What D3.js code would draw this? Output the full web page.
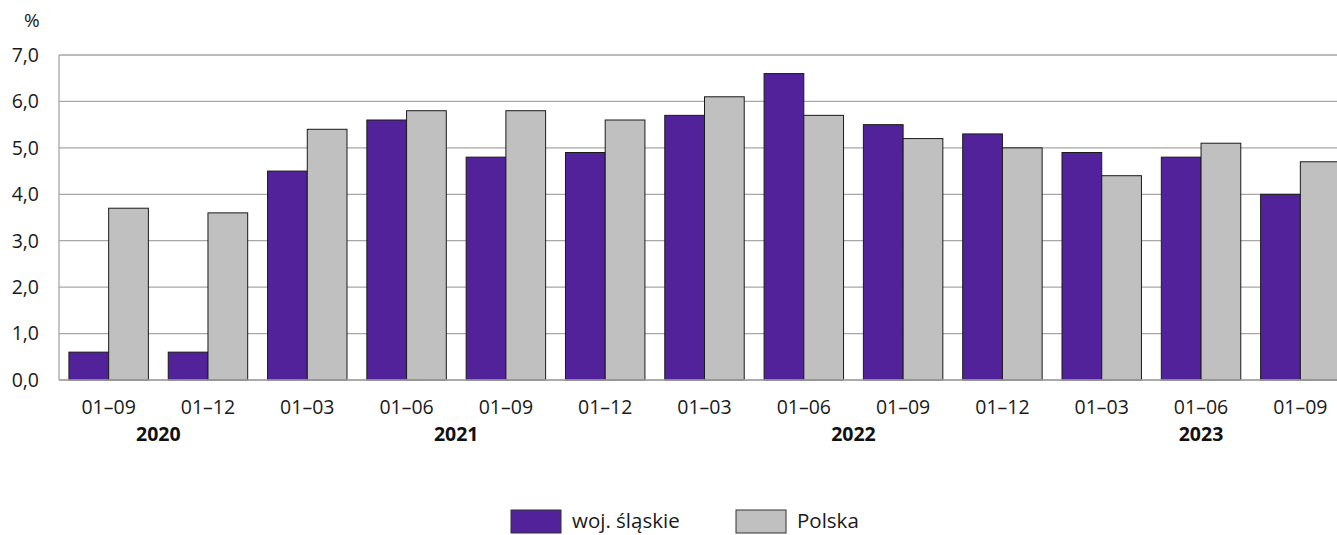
<!DOCTYPE html>
<html><head><meta charset="utf-8">
<script src="https://cdn.jsdelivr.net/npm/d3@7"></script>
<style>body{margin:0;background:#fff;} svg{display:block;font-family:"Open Sans","Noto Sans",sans-serif;}</style>
</head><body>
<svg id="c" width="1337" height="535"></svg>
<script>
const periods = ["01–09","01–12","01–03","01–06","01–09","01–12","01–03","01–06","01–09","01–12","01–03","01–06","01–09"];
const years = [{label:"2020", from:0, to:1},{label:"2021", from:2, to:5},{label:"2022", from:6, to:9},{label:"2023", from:10, to:12}];
const slaskie = [0.6,0.6,4.5,5.6,4.8,4.9,5.7,6.6,5.5,5.3,4.9,4.8,4.0];
const polska = [3.7,3.6,5.4,5.8,5.8,5.6,6.1,5.7,5.2,5.0,4.4,5.1,4.7];
const yTicks = [0,1,2,3,4,5,6,7];
const seriesNames = ["woj. śląskie","Polska"];
const colors = ["#51229a","#c0c0c0"];

const svg = d3.select("#c");
const idx = d3.range(periods.length);
const x = d3.scaleBand().domain(idx).range([59,1350]).paddingInner(0.2).paddingOuter(0.1);
const y = d3.scaleLinear().domain([0,7]).range([380,55]);
const xs = d3.scaleBand().domain([0,1]).range([0,x.bandwidth()]);

// gridlines
svg.append("g").selectAll("line").data(yTicks).join("line")
  .attr("x1",59).attr("x2",1337).attr("y1",d=>y(d)).attr("y2",d=>y(d))
  .attr("stroke","#a6a6a6").attr("stroke-width",1.3);
// y axis line
svg.append("line").attr("x1",59).attr("x2",59).attr("y1",55).attr("y2",380).attr("stroke","#a6a6a6").attr("stroke-width",1.3);
// y labels
svg.append("g").selectAll("text").data(yTicks).join("text")
  .attr("x",39).attr("y",d=>y(d)).attr("dy","0.35em").attr("text-anchor","end")
  .attr("font-size",19.5).attr("fill","#1a1a1a").text(d=>d3.format(".1f")(d).replace(".",","));
svg.append("text").attr("x",24).attr("y",27).attr("font-size",19).attr("fill","#1a1a1a").text("%");

// bars
const data = [slaskie, polska];
data.forEach((vals,s)=>{
  svg.append("g").selectAll("rect").data(vals).join("rect")
    .attr("x",(d,i)=>x(i)+xs(s)).attr("width",xs.bandwidth())
    .attr("y",d=>y(d)).attr("height",d=>y(0)-y(d))
    .attr("fill",colors[s]).attr("stroke","#1a1a1a").attr("stroke-width",1);
});
// baseline
svg.append("line").attr("x1",59).attr("x2",1337).attr("y1",y(0)).attr("y2",y(0)).attr("stroke","#a6a6a6").attr("stroke-width",1.3);

// x labels
svg.append("g").selectAll("text").data(periods).join("text")
  .attr("x",(d,i)=>x(i)+x.bandwidth()/2).attr("y",414).attr("text-anchor","middle")
  .attr("font-size",19.5).attr("fill","#1a1a1a").text(d=>d);
svg.append("g").selectAll("text").data(years).join("text")
  .attr("x",d=>(x(d.from)+x(d.to)+x.bandwidth())/2).attr("y",441).attr("text-anchor","middle")
  .attr("font-size",19.5).attr("font-weight","bold").attr("fill","#111").text(d=>d.label);

// legend
const leg = [{x:511},{x:736}];
seriesNames.forEach((n,i)=>{
  svg.append("rect").attr("x",leg[i].x).attr("y",510).attr("width",50).attr("height",23)
    .attr("fill",colors[i]).attr("stroke","#333").attr("stroke-width",1);
  svg.append("text").attr("x",leg[i].x+61).attr("y",528).attr("font-size",20.5).attr("fill","#1a1a1a").text(n);
});
</script>
</body></html>
